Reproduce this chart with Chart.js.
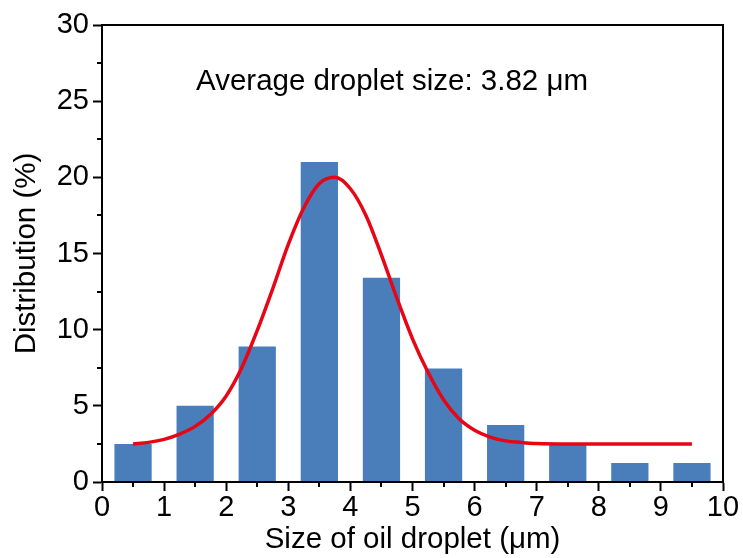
<!DOCTYPE html>
<html lang="en">
<head>
  <meta charset="UTF-8" />
  <title>Oil droplet size distribution</title>
  <script src="https://cdn.jsdelivr.net/npm/chart.js"></script>
  <style>
    html, body { margin: 0; padding: 0; background: #fff; }
  </style>
</head>
<body>
  <canvas id="chart" width="743" height="558"></canvas>

  <script>
    // Histogram bins (centres, um) and their share (%)
    const binCenters = [0.5, 1.5, 2.5, 3.5, 4.5, 5.5, 6.5, 7.5, 8.5, 9.5];
    const binValues = [2.5, 5.0, 8.9, 21.0, 13.4, 7.45, 3.75, 2.45, 1.25, 1.25];

    // Fitted curve
    const fitX = [0.5, 0.75, 1, 1.25, 1.5, 1.75, 2, 2.25, 2.5, 2.75, 3, 3.25, 3.5, 3.75, 4, 4.25,
                  4.5, 4.75, 5, 5.25, 5.5, 5.75, 6, 6.25, 6.5, 6.75, 7, 7.5, 8, 8.5, 9, 9.5];
    const fitY = [2.5, 2.6, 2.8, 3.15, 3.65, 4.45, 5.65, 7.5, 9.95, 12.7, 15.6, 18.0, 19.6, 20.0, 19.25, 17.5,
                  14.9, 12.05, 9.4, 7.2, 5.4, 4.15, 3.4, 2.95, 2.7, 2.6, 2.53, 2.5, 2.5, 2.5, 2.5, 2.5];

    const xTitle = 'Size of oil droplet (\u03bcm)';
    const yTitle = 'Distribution (%)';
    const note = 'Average droplet size: 3.82 \u03bcm';
    const noteAt = [4.67, 26.3]; // data coords of the note's centre

    const FONT = '"Liberation Sans", Arial, Helvetica, sans-serif';

    // box around the plot, minor ticks and the note
    const decor = {
      id: 'decor',
      afterDraw(chart) {
        const { ctx, chartArea: a, scales: { x, y } } = chart;
        ctx.save();
        ctx.strokeStyle = '#000';
        ctx.lineWidth = 2;
        ctx.strokeRect(a.left, a.top, a.right - a.left, a.bottom - a.top);

        ctx.beginPath();
        for (let v = 0.5; v < 10; v += 1) {
          const px = Math.round(x.getPixelForValue(v));
          ctx.moveTo(px, a.bottom);
          ctx.lineTo(px, a.bottom + 5);
        }
        for (let v = 2.5; v < 30; v += 5) {
          const py = Math.round(y.getPixelForValue(v));
          ctx.moveTo(a.left, py);
          ctx.lineTo(a.left - 5, py);
        }
        ctx.stroke();

        ctx.fillStyle = '#000';
        ctx.font = '29.5px ' + FONT;
        ctx.textAlign = 'center';
        ctx.textBaseline = 'middle';
        ctx.fillText(note, x.getPixelForValue(noteAt[0]), y.getPixelForValue(noteAt[1]));
        ctx.restore();
      }
    };

    const ctx = document.getElementById('chart').getContext('2d');
    new Chart(ctx, {
      type: 'bar',
      data: {
        datasets: [{
          type: 'line',
          data: fitX.map((x, i) => ({ x: x, y: fitY[i] })),
          borderColor: 'rgb(230, 6, 22)',
          borderWidth: 3.5,
          pointRadius: 0,
          cubicInterpolationMode: 'monotone',
          fill: false,
          order: 0
        }, {
          type: 'bar',
          data: binCenters.map((x, i) => ({ x: x, y: binValues[i] })),
          backgroundColor: 'rgb(74, 126, 187)',
          borderWidth: 0,
          barPercentage: 0.6,
          categoryPercentage: 1,
          order: 1
        }]
      },
      options: {
        responsive: false,
        animation: false,
        devicePixelRatio: 1,
        layout: { padding: { left: 0, right: 20, top: 25, bottom: 0 } },
        plugins: {
          legend: { display: false },
          tooltip: { enabled: false }
        },
        scales: {
          x: {
            type: 'linear',
            min: 0,
            max: 10,
            offset: false,
            grid: { offset: false, drawOnChartArea: false, tickLength: 9, tickWidth: 2, tickColor: '#000' },
            border: { color: '#000', width: 2 },
            ticks: { stepSize: 1, color: '#000', padding: 0, maxRotation: 0, font: { family: FONT, size: 29 } },
            title: { display: true, text: xTitle, color: '#000', padding: 0, font: { family: FONT, size: 29.5 } },
            afterFit(scale) { scale.height = 76; }
          },
          y: {
            min: 0,
            max: 30,
            grid: { drawOnChartArea: false, tickLength: 9, tickWidth: 2, tickColor: '#000' },
            border: { color: '#000', width: 2 },
            ticks: { stepSize: 5, color: '#000', padding: 4, font: { family: FONT, size: 29 } },
            title: { display: true, text: yTitle, color: '#000', padding: { top: 9, bottom: 0 }, font: { family: FONT, size: 29.5 } },
            afterFit(scale) { scale.width = 102; }
          }
        }
      },
      plugins: [decor]
    });
  </script>
</body>
</html>
